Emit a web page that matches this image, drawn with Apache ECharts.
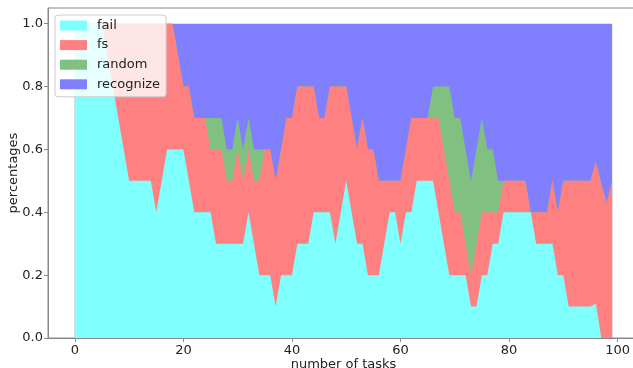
<!DOCTYPE html>
<html>
<head>
<meta charset="utf-8">
<script src="https://cdn.jsdelivr.net/npm/echarts@6/dist/echarts.min.js"></script>
<style>
html,body{margin:0;padding:0;background:#fff;}
#c{width:633px;height:368px;}
</style>
</head>
<body>
<div id="c"></div>
<script>
const tasks = [0,1,2,3,4,5,6,7,8,9,10,11,12,13,14,15,16,17,18,19,20,21,22,23,24,25,26,27,28,29,30,31,32,33,34,35,36,37,38,39,40,41,42,43,44,45,46,47,48,49,50,51,52,53,54,55,56,57,58,59,60,61,62,63,64,65,66,67,68,69,70,71,72,73,74,75,76,77,78,79,80,81,82,83,84,85,86,87,88,89,90,91,92,93,94,95,96,97,98,99];
const fail = [1.0,1.0,1.0,1.0,1.0,1.0,0.9,0.8,0.7,0.6,0.5,0.5,0.5,0.5,0.5,0.4,0.5,0.6,0.6,0.6,0.6,0.5,0.4,0.4,0.4,0.4,0.3,0.3,0.3,0.3,0.3,0.3,0.4,0.3,0.2,0.2,0.2,0.1,0.2,0.2,0.2,0.3,0.3,0.3,0.4,0.4,0.4,0.4,0.3,0.4,0.5,0.4,0.3,0.3,0.2,0.2,0.2,0.3,0.4,0.4,0.3,0.4,0.4,0.5,0.5,0.5,0.5,0.4,0.3,0.2,0.2,0.2,0.2,0.1,0.1,0.2,0.2,0.3,0.3,0.4,0.4,0.4,0.4,0.4,0.4,0.3,0.3,0.3,0.3,0.2,0.2,0.1,0.1,0.1,0.1,0.1,0.11,0,0,0];
const fs = [0,0,0,0,0,0,0.1,0.2,0.3,0.4,0.5,0.5,0.5,0.5,0.5,0.6,0.5,0.4,0.4,0.3,0.2,0.3,0.3,0.3,0.3,0.2,0.3,0.3,0.2,0.2,0.3,0.2,0.2,0.2,0.3,0.4,0.4,0.4,0.4,0.5,0.5,0.5,0.5,0.5,0.4,0.3,0.3,0.4,0.5,0.4,0.3,0.3,0.3,0.4,0.4,0.4,0.3,0.2,0.1,0.1,0.2,0.2,0.3,0.2,0.2,0.2,0.2,0.3,0.3,0.3,0.2,0.2,0.1,0.1,0.2,0.2,0.2,0.1,0.1,0.1,0.1,0.1,0.1,0.1,0.0,0.1,0.1,0.1,0.2,0.2,0.3,0.4,0.4,0.4,0.4,0.4,0.45,0.49,0.43,0.5];
const random = [0,0,0,0,0,0,0,0,0,0,0,0,0,0,0,0,0,0,0,0,0,0,0,0,0,0.1,0.1,0.1,0.1,0.1,0.1,0.1,0.1,0.1,0.1,0,0,0,0,0,0,0,0,0,0,0,0,0,0,0,0,0,0,0,0,0,0,0,0,0,0,0,0,0,0,0,0.1,0.1,0.2,0.3,0.3,0.3,0.3,0.3,0.3,0.3,0.2,0.2,0.1,0,0,0,0,0,0,0,0,0,0,0,0,0,0,0,0,0,0,0,0,0];
const recognize = [0,0,0,0,0,0,0,0,0,0,0,0,0,0,0,0,0,0,0,0.1,0.2,0.2,0.3,0.3,0.3,0.3,0.3,0.3,0.4,0.4,0.3,0.4,0.3,0.4,0.4,0.4,0.4,0.5,0.4,0.3,0.3,0.2,0.2,0.2,0.2,0.3,0.3,0.2,0.2,0.2,0.2,0.3,0.4,0.3,0.4,0.4,0.5,0.5,0.5,0.5,0.5,0.4,0.3,0.3,0.3,0.3,0.2,0.2,0.2,0.2,0.3,0.3,0.4,0.5,0.4,0.3,0.4,0.4,0.5,0.5,0.5,0.5,0.5,0.5,0.6,0.6,0.6,0.6,0.5,0.6,0.5,0.5,0.5,0.5,0.5,0.5,0.44,0.51,0.57,0.5];
const xTicks = [0,20,40,60,80,100];
const yTicks = [0,0.2,0.4,0.6,0.8,1.0];

const names = ['fail','fs','random','recognize'];
const values = [fail, fs, random, recognize];
const colors = ['#80ffff','#ff8080','#80c080','#8080ff'];

// stack the layers (cumulative tops), then draw top layer first so lower layers sit over it
const cum = [];
let run = tasks.map(()=>0);
values.forEach((arr)=>{ run = run.map((v,j)=>v + arr[j]); cum.push(run.slice()); });

const font = 'DejaVu Sans';
const series = [];
for (let i = names.length - 1; i >= 0; i--) {
  series.push({
    name:names[i], type:'line',
    data: tasks.map((t,j)=>[t, +cum[i][j].toFixed(4)]),
    showSymbol:false, symbol:'none',
    lineStyle:{width:0, color:colors[i]},
    itemStyle:{color:colors[i]},
    areaStyle:{color:colors[i], opacity:1, origin:'start'},
    emphasis:{disabled:true},
    silent:true,
    z: 2 + (names.length - i)
  });
}

const chart = echarts.init(document.getElementById('c'), null, {renderer:'canvas'});
chart.setOption({
  animation:false,
  backgroundColor:'#fff',
  textStyle:{fontFamily:font},
  grid:{left:48, top:8, width:591, height:330, outerBoundsMode:'none', containLabel:false,
        show:true, borderColor:'#888', borderWidth:1, backgroundColor:'transparent'},
  legend:{
    orient:'vertical', left:55, top:15,
    data:names,
    icon:'rect', itemWidth:27, itemHeight:10, itemGap:4.6,
    backgroundColor:'rgba(255,255,255,0.8)', borderColor:'#cccccc', borderWidth:1, borderRadius:3,
    padding:[3,6,5,5],
    textStyle:{fontFamily:font, fontSize:13, color:'#222', lineHeight:15, padding:[0,0,0,5]},
    selectedMode:false, z:10
  },
  xAxis:{
    type:'value', min:-4.95, max:103.95,
    name:'number of tasks', nameLocation:'middle', nameGap:20, nameMoveOverlap:false,
    nameTextStyle:{fontFamily:font, fontSize:13, color:'#222'},
    axisLine:{show:true, onZero:false, lineStyle:{color:'#888'}},
    axisTick:{show:true, length:4, lineStyle:{color:'#888'}, customValues:xTicks},
    axisLabel:{fontFamily:font, fontSize:13, color:'#222', margin:6, customValues:xTicks},
    splitLine:{show:false}
  },
  yAxis:{
    type:'value', min:0, max:1.05,
    name:'percentages', nameLocation:'middle', nameGap:28, nameMoveOverlap:false,
    nameTextStyle:{fontFamily:font, fontSize:13, color:'#222'},
    axisLine:{show:true, onZero:false, lineStyle:{color:'#888'}},
    axisTick:{show:true, length:4, lineStyle:{color:'#888'}, customValues:yTicks},
    axisLabel:{fontFamily:font, fontSize:13, color:'#222', margin:5, customValues:yTicks, formatter:v=>v.toFixed(1)},
    splitLine:{show:false}
  },
  series: series
});
</script>
</body>
</html>
